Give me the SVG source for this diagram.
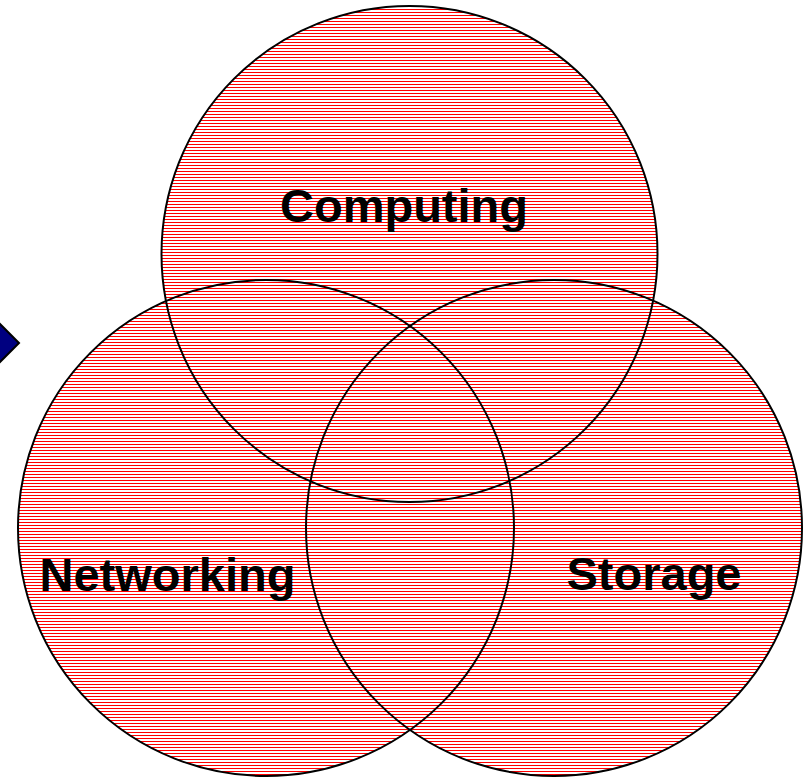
<svg xmlns="http://www.w3.org/2000/svg" width="805" height="778" viewBox="0 0 805 778">
<defs>
<pattern id="hatch" patternUnits="userSpaceOnUse" x="0" y="0" width="8" height="3">
<rect x="0" y="0" width="8" height="1" fill="#ff0000" shape-rendering="crispEdges"/>
</pattern>
<style>
.fill{fill:url(#hatch);stroke:none}
.ring{fill:none;stroke:#000;stroke-width:2}
.lbl{font-family:"Liberation Sans",Arial,sans-serif;font-weight:bold;font-size:47px;fill:#000;text-anchor:middle}
</style>
</defs>
<rect width="805" height="778" fill="#fff"/>
<g id="arrow">
<polygon points="-12,312 19,343 -12,374" fill="#000080" stroke="#000" stroke-width="2"/>
</g>
<g id="fills">
<circle class="fill" cx="409.5" cy="254" r="248"/>
<circle class="fill" cx="266" cy="528" r="248"/>
<circle class="fill" cx="554" cy="528" r="248"/>
</g>
<g id="computing">
<circle class="ring" cx="409.5" cy="254" r="248"/>
<text class="lbl" x="404" y="222">Computing</text>
</g>
<g id="networking">
<circle class="ring" cx="266" cy="528" r="248"/>
<text class="lbl" x="167.5" y="591">Networking</text>
</g>
<g id="storage">
<circle class="ring" cx="554" cy="528" r="248"/>
<text class="lbl" x="654" y="590">Storage</text>
</g>
<g id="connectors"/>
</svg>
